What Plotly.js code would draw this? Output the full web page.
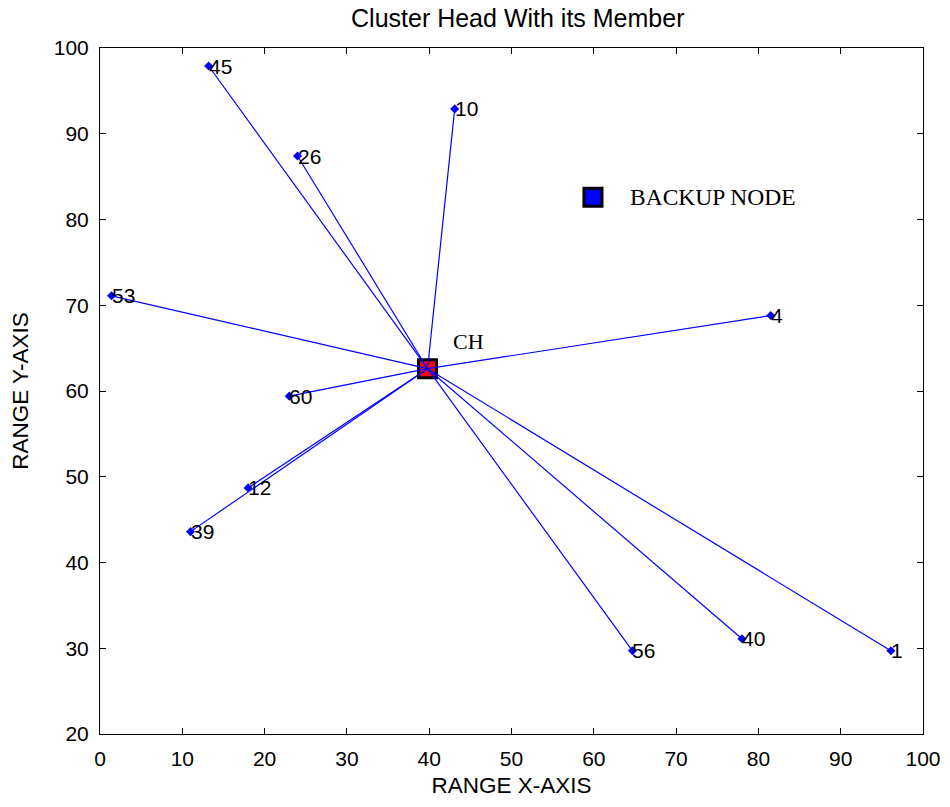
<!DOCTYPE html>
<html>
<head>
<meta charset="utf-8">
<script src="https://cdn.plot.ly/plotly-3.0.1.min.js"></script>
<style>
  html, body { margin: 0; padding: 0; background: #ffffff; }
  #chart { width: 950px; height: 807px; }
</style>
</head>
<body>
<div id="chart"></div>
<script>
// ---- data ----
var nodeIds = ['45', '26', '10', '53', '60', '12', '39', '56', '40', '1', '4'];
var nodeX   = [13.2, 24.0, 43.1, 1.4, 23.0, 18.0, 11.0, 64.7, 78.0, 96.1, 81.5];
var nodeY   = [97.9, 87.4, 92.9, 71.1, 59.4, 48.7, 43.6, 29.7, 31.1, 29.7, 68.8];

var chX = [39.8];
var chY = [62.6];
var chLabel = 'CH';
var chLabelX = [42.6];
var chLabelY = [65.8];

var backupX = [59.9];
var backupY = [82.6];
var backupLabel = 'BACKUP NODE';
var backupLabelX = [64.2];
var backupLabelY = [82.6];

var xTicks = [0, 10, 20, 30, 40, 50, 60, 70, 80, 90, 100];
var yTicks = [20, 30, 40, 50, 60, 70, 80, 90, 100];

// ---- build traces ----
var lineX = [], lineY = [];
for (var i = 0; i < nodeX.length; i++) {
  lineX.push(chX[0], nodeX[i], null);
  lineY.push(chY[0], nodeY[i], null);
}

var traces = [
  {
    x: chX, y: chY, type: 'scatter', mode: 'markers', hoverinfo: 'skip',
    marker: { symbol: 'square', size: 18, color: '#ff0000', line: { color: '#000000', width: 3 } }
  },
  {
    x: lineX, y: lineY, type: 'scatter', mode: 'lines', hoverinfo: 'skip',
    line: { color: '#0000ff', width: 1.2 }
  },
  {
    x: nodeX, y: nodeY, type: 'scatter', mode: 'markers', hoverinfo: 'skip',
    marker: { symbol: 'diamond', size: 7, color: '#0000ff' }
  },
  {
    x: backupX, y: backupY, type: 'scatter', mode: 'markers', hoverinfo: 'skip',
    marker: { symbol: 'square', size: 18, color: '#0000ff', line: { color: '#000000', width: 3 } }
  }
];

var annotations = [];
for (var j = 0; j < nodeIds.length; j++) {
  annotations.push({
    x: nodeX[j], y: nodeY[j], xref: 'x', yref: 'y', text: nodeIds[j],
    showarrow: false, xanchor: 'left', yanchor: 'middle', xshift: -2, yshift: 0,
    font: { family: 'Liberation Sans, Arial, sans-serif', size: 21, color: '#000000' }
  });
}
annotations.push({
  x: chLabelX[0], y: chLabelY[0], xref: 'x', yref: 'y', text: chLabel,
  showarrow: false, xanchor: 'left', yanchor: 'middle',
  font: { family: 'Liberation Serif, Times New Roman, serif', size: 22, color: '#000000' }
});
annotations.push({
  x: backupLabelX[0], y: backupLabelY[0], xref: 'x', yref: 'y', text: backupLabel,
  showarrow: false, xanchor: 'left', yanchor: 'middle',
  font: { family: 'Liberation Serif, Times New Roman, serif', size: 23.5, color: '#000000' }
});

var tickFont = { family: 'Liberation Sans, Arial, sans-serif', size: 21, color: '#000000' };

var layout = {
  width: 950, height: 807,
  paper_bgcolor: '#ffffff', plot_bgcolor: '#ffffff',
  margin: { l: 100, r: 27, t: 48, b: 73, pad: 0 },
  showlegend: false,
  title: {
    text: 'Cluster Head With its Member',
    font: { family: 'Liberation Sans, Arial, sans-serif', size: 25, color: '#000000' },
    x: 0.545, xanchor: 'center', y: 0.977, yanchor: 'middle'
  },
  xaxis: {
    range: [0, 100], tickmode: 'array', tickvals: xTicks, ticktext: xTicks.map(String),
    ticks: 'inside', ticklen: 6, tickcolor: '#000000', tickwidth: 1,
    showline: true, linecolor: '#000000', linewidth: 1, mirror: 'ticks',
    showgrid: false, zeroline: false, tickfont: tickFont, ticklabelstandoff: 6,
    title: { text: 'RANGE X-AXIS', font: { family: 'Liberation Sans, Arial, sans-serif', size: 22.5, color: '#000000' }, standoff: 8 }
  },
  yaxis: {
    range: [20, 100], tickmode: 'array', tickvals: yTicks, ticktext: yTicks.map(String),
    ticks: 'inside', ticklen: 6, tickcolor: '#000000', tickwidth: 1,
    showline: true, linecolor: '#000000', linewidth: 1, mirror: 'ticks',
    showgrid: false, zeroline: false, tickfont: tickFont, ticklabelstandoff: 6,
    title: { text: 'RANGE Y-AXIS', font: { family: 'Liberation Sans, Arial, sans-serif', size: 22.5, color: '#000000' }, standoff: 18 }
  },
  annotations: annotations
};

Plotly.newPlot('chart', traces, layout, { displayModeBar: false, staticPlot: true });
</script>
</body>
</html>
